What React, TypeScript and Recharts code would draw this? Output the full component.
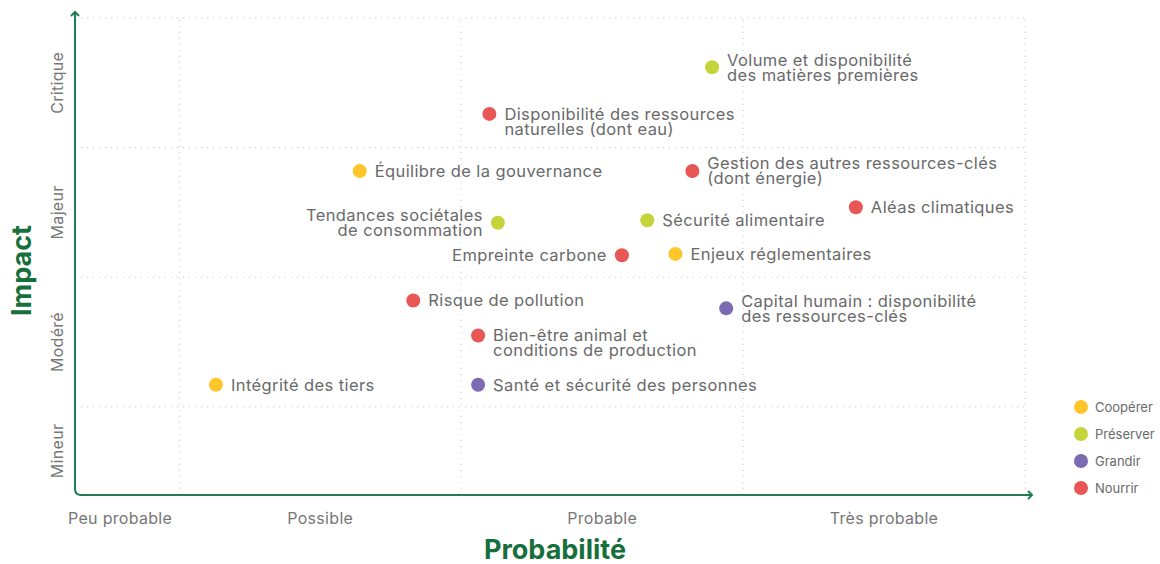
import React from 'react'
import {
  ScatterChart, Scatter, XAxis, YAxis, ReferenceLine, Legend,
} from 'recharts'

const RISK_LABELS = [
  'Volume et disponibilité\ndes matières premières',
  'Disponibilité des ressources\nnaturelles (dont eau)',
  'Équilibre de la gouvernance',
  'Gestion des autres ressources-clés\n(dont énergie)',
  'Aléas climatiques',
  'Tendances sociétales\nde consommation',
  'Sécurité alimentaire',
  'Empreinte carbone',
  'Enjeux réglementaires',
  'Risque de pollution',
  'Capital humain : disponibilité\ndes ressources-clés',
  'Bien-être animal et\nconditions de production',
  'Intégrité des tiers',
  'Santé et sécurité des personnes',
]
const PROBABILITY = [1.89, 1.10, 0.64, 1.82, 2.40, 1.13, 1.66, 1.57, 1.76, 0.83, 1.94, 1.06, 0.13, 1.06]
const IMPACT      = [2.62, 2.26, 1.82, 1.82, 1.54, 1.42, 1.44, 1.17, 1.18, 0.82, 0.76, 0.55, 0.17, 0.17]
const GROUP = [
  'Préserver', 'Nourrir', 'Coopérer', 'Nourrir', 'Nourrir', 'Préserver', 'Préserver',
  'Nourrir', 'Coopérer', 'Nourrir', 'Grandir', 'Nourrir', 'Coopérer', 'Grandir',
]

const CATEGORIES = ['Coopérer', 'Préserver', 'Grandir', 'Nourrir']
const X_TICKS = ['Peu probable', 'Possible', 'Probable', 'Très probable']
const X_TICK_POS = [-0.21, 0.5, 1.5, 2.5]
const Y_TICKS = ['Mineur', 'Modéré', 'Majeur', 'Critique']
const Y_TICK_POS = [-0.34, 0.5, 1.5, 2.5]
const GRID = [0, 1, 2, 3]

// labels drawn on the left of the dot / first line level with the dot
const LEFT_LABELS = new Set(['Tendances sociétales\nde consommation', 'Empreinte carbone'])
const TOP_ALIGNED = new Set(['Disponibilité des ressources\nnaturelles (dont eau)', 'Bien-être animal et\nconditions de production'])

const COLORS: Record<string, string> = {
  'Coopérer':  '#FFC62B',
  'Préserver': '#C4D43A',
  'Grandir':   '#7C6AB2',
  'Nourrir':   '#E85656',
}

const X_DOMAIN: [number, number] = [-0.37, 3]
const Y_DOMAIN: [number, number] = [-0.68, 3]
const AXIS_GREEN = '#1E7D52'
const TITLE_GREEN = '#17703C'
const FONT = 'Inter, "Open Sans", sans-serif'

const points = RISK_LABELS.map((label, i) => ({
  label, x: PROBABILITY[i], y: IMPACT[i], group: GROUP[i],
}))

function PointShape(props: any) {
  const { cx, cy, payload } = props
  const lines: string[] = payload.label.split('\n')
  const left = LEFT_LABELS.has(payload.label)
  const top = TOP_ALIGNED.has(payload.label)
  const lh = 15
  const startY = top ? cy : cy - ((lines.length - 1) * lh) / 2
  const tx = left ? cx - 15 : cx + 15
  return (
    <g>
      <circle cx={cx} cy={cy} r={7} fill={COLORS[payload.group]} />
      <text
        x={tx}
        y={startY}
        textAnchor={left ? 'end' : 'start'}
        fill="#6a6a6a"
        fontSize={16.5}
        letterSpacing={0.4}
        fontFamily={FONT}
      >
        {lines.map((l, k) => (
          <tspan key={k} x={tx} y={startY + k * lh} dy="0.35em">{l}</tspan>
        ))}
      </text>
    </g>
  )
}

function AxisShape(props: any) {
  const { x1, y1, x2, y2 } = props
  const r = 6
  return (
    <g fill="none" stroke={AXIS_GREEN} strokeWidth={2}>
      <path d={`M${x1},${y1 - 5} L${x1},${y2 - r} Q${x1},${y2} ${x1 + r},${y2} L${x2 + 6},${y2}`} />
      <polyline points={`${x1 - 4},${y1 - 2} ${x1},${y1 - 6} ${x1 + 4},${y1 - 2}`} />
      <polyline points={`${x2 + 3},${y2 - 4} ${x2 + 7},${y2} ${x2 + 3},${y2 + 4}`} />
    </g>
  )
}

function XTick(props: any) {
  const { x, y, payload } = props
  const i = X_TICK_POS.indexOf(payload.value)
  return (
    <text x={x} y={y + 21} textAnchor="middle" fill="#777" fontSize={16} letterSpacing={0.3} fontFamily={FONT}>
      {X_TICKS[i]}
    </text>
  )
}

function YTick(props: any) {
  const { y, payload } = props
  const i = Y_TICK_POS.indexOf(payload.value)
  const bx = 63
  return (
    <text x={bx} y={y} transform={`rotate(-90, ${bx}, ${y})`} textAnchor="middle" fill="#777" fontSize={16} letterSpacing={0.3} fontFamily={FONT}>
      {Y_TICKS[i]}
    </text>
  )
}

function LegendContent() {
  return (
    <svg width={90} height={110}>
      {CATEGORIES.map((c, i) => (
        <g key={c}>
          <circle cx={9} cy={10 + i * 27} r={7} fill={COLORS[c]} />
          <text x={23} y={10 + i * 27} dy="0.35em" fontSize={13} fill="#6a6a6a" fontFamily={FONT}>{c}</text>
        </g>
      ))}
    </svg>
  )
}

export default function App() {
  return (
    <div style={{ position: 'absolute', left: 0, top: 0, background: '#fff' }}>
      <ScatterChart width={1160} height={564} margin={{ top: 18, right: 45, left: 35, bottom: 29 }}>
        {GRID.map((g) => (
          <ReferenceLine key={'v' + g} x={g} stroke="#c9c9c9" strokeDasharray="1 5" />
        ))}
        {GRID.map((g) => (
          <ReferenceLine key={'h' + g} y={g} stroke="#c9c9c9" strokeDasharray="1 5" />
        ))}
        <XAxis
          type="number" dataKey="x" domain={X_DOMAIN} allowDataOverflow
          ticks={X_TICK_POS} tick={<XTick />} tickLine={false} axisLine={false} height={40}
          label={(p: any) => {
            const vb = p.viewBox
            return (
              <text x={vb.x + vb.width / 2 + 5} y={559} textAnchor="middle" fill={TITLE_GREEN}
                fontSize={27} fontWeight={700} fontFamily={FONT}>Probabilité</text>
            )
          }}
        />
        <YAxis
          type="number" dataKey="y" domain={Y_DOMAIN} allowDataOverflow
          ticks={Y_TICK_POS} tick={<YTick />} tickLine={false} axisLine={false} width={40}
          label={(p: any) => {
            const vb = p.viewBox
            const cy = vb.y + vb.height / 2 + 14
            return (
              <text x={31} y={cy} transform={`rotate(-90, 31, ${cy})`} textAnchor="middle" fill={TITLE_GREEN}
                fontSize={27} fontWeight={700} fontFamily={FONT}>Impact</text>
            )
          }}
        />
        <ReferenceLine
          segment={[{ x: X_DOMAIN[0], y: Y_DOMAIN[1] }, { x: X_DOMAIN[1], y: Y_DOMAIN[0] }]}
          ifOverflow="visible"
          shape={<AxisShape />}
        />
        {CATEGORIES.map((c) => (
          <Scatter
            key={c}
            name={c}
            data={points.filter((p) => p.group === c)}
            fill={COLORS[c]}
            shape={<PointShape />}
            isAnimationActive={false}
          />
        ))}
        <Legend
          layout="vertical"
          align="right"
          verticalAlign="bottom"
          content={<LegendContent />}
          wrapperStyle={{ position: 'absolute', left: 1072, top: 397, width: 90, height: 110 }}
        />
      </ScatterChart>
    </div>
  )
}
